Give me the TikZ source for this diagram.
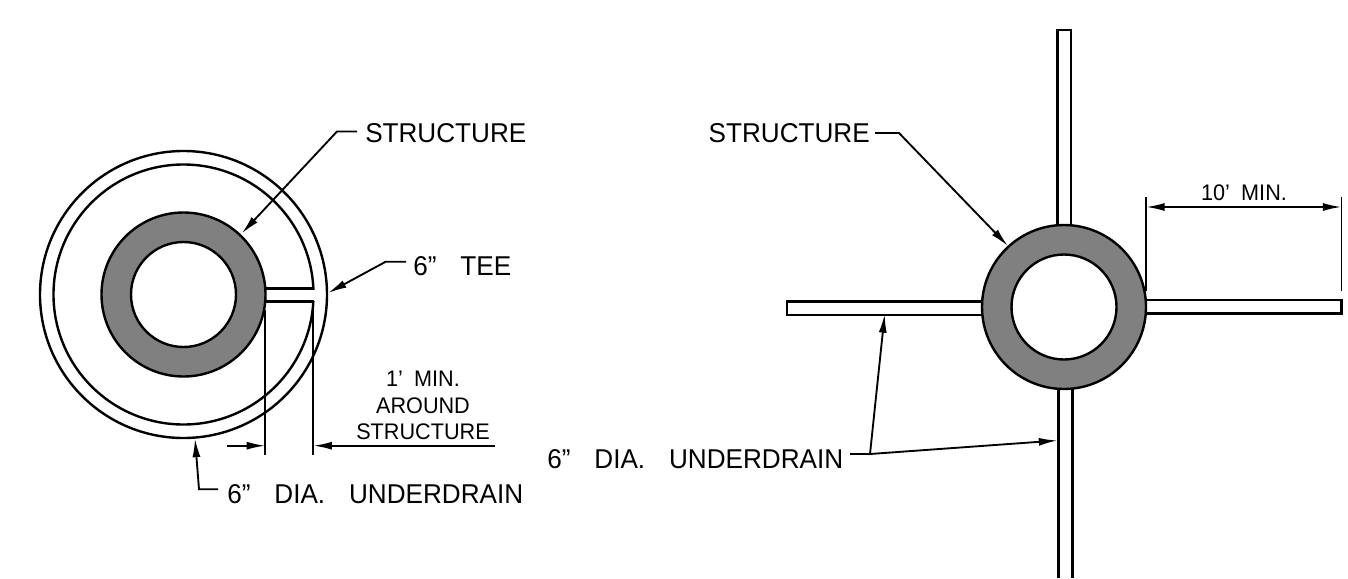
\documentclass[tikz,border=0pt]{standalone}
\usepackage{fontspec}
\setmainfont[FakeStretch=0.96]{Liberation Sans}
\usetikzlibrary{arrows.meta}
\tikzset{
  px/.style={x=0.75pt,y=-0.75pt},
  heavy/.style={draw=black,line width=1.8pt},
  thin leader/.style={draw=black,line width=1.4pt},
  tipped/.style={thin leader,-{Latex[length=14pt,width=6pt]}},
  ext/.style={draw=black,line width=1.4pt},
  concrete/.style={heavy,fill=struct},
  lab/.style={inner sep=0pt,anchor=base west,font=\fontsize{20.4}{22}\selectfont},
  smalllab/.style={inner sep=0pt,anchor=base,font=\fontsize{16.9}{19}\selectfont},
}
\definecolor{struct}{HTML}{808080}
\newcommand{\wgap}{\hspace{0.88em}}
\newcommand{\sgap}{\hspace{0.5em}}
\begin{document}
\begin{tikzpicture}[px]
\useasboundingbox (0,0) rectangle (1348,578);
% ---- left view
\coordinate (Lc) at (183.5,294.5);
\draw[heavy] (Lc) circle (143.5);
\draw[heavy] (Lc) circle (130);
\fill[white] (300,289.5) rectangle (322,300.5);
\draw[concrete] (Lc) circle (82);
\draw[heavy,fill=white] (Lc) circle (52.5);
\coordinate (teeA) at (265,288.5);
\coordinate (teeB) at (313.5,288.5);
\coordinate (teeC) at (265,301.5);
\coordinate (teeD) at (313.5,301.5);
\draw[heavy] (teeA) -- (teeB);
\draw[heavy] (teeC) -- (teeD);
% dimension
\coordinate (e1a) at (265.3,310);
\coordinate (e1b) at (265.3,455);
\coordinate (e2a) at (313.3,303);
\coordinate (e2b) at (313.3,455);
\draw[ext] (e1a) -- (e1b);
\draw[ext] (e2a) -- (e2b);
\coordinate (d1s) at (226.5,445.7);
\coordinate (d1t) at (265.3,445.7);
\coordinate (d2s) at (495,445.7);
\coordinate (d2t) at (313.3,445.7);
\draw[tipped] (d1s) -- (d1t);
\draw[tipped] (d2s) -- (d2t);
% labels left
\node[lab] (lstruct) at (365,142.5) {STRUCTURE};
\coordinate (ls1) at (357,131.5);
\coordinate (ls2) at (337,131.5);
\coordinate (ls3) at (241.7,233.5);
\draw[tipped] (ls1) -- (ls2) -- (ls3);
\node[lab] (tee) at (413,275) {6”\wgap TEE};
\coordinate (t1) at (406,261.7);
\coordinate (t2) at (385.7,261.7);
\coordinate (t3) at (328,293);
\draw[tipped] (t1) -- (t2) -- (t3);
\node[smalllab] (m1) at (423,386) {1’\sgap MIN.};
\node[smalllab] (m2) at (423,413) {AROUND};
\node[smalllab] (m3) at (423,439) {STRUCTURE};
\node[lab] (lund) at (227,503) {6”\wgap DIA.\wgap UNDERDRAIN};
\coordinate (u1) at (218,489.3);
\coordinate (u2) at (199,489.3);
\coordinate (u3) at (195,438.5);
\draw[tipped] (u1) -- (u2) -- (u3);
% ---- right view
\coordinate (Rc) at (1064,307);
\draw[heavy,fill=white] (1057.5,225) -- (1057.5,30) -- (1071,30) -- (1071,225);
\draw[heavy,fill=white] (1058.5,389) -- (1058.5,578) (1072.5,389) -- (1072.5,578);
\draw[heavy,fill=white] (985,301.5) -- (787,301.5) -- (787,315) -- (985,315);
\draw[heavy,fill=white] (1146,300) -- (1341.5,300) -- (1341.5,313.5) -- (1146,313.5);
\draw[concrete] (Rc) circle (82);
\draw[heavy,fill=white] (Rc) circle (52.5);
\coordinate (r1a) at (1146,197);
\coordinate (r1b) at (1146,291);
\coordinate (r2a) at (1341.5,197);
\coordinate (r2b) at (1341.5,291);
\draw[ext] (r1a) -- (r1b);
\draw[ext] (r2a) -- (r2b);
\coordinate (rdm) at (1244,207);
\draw[tipped] (rdm) -- (r1a |- rdm);
\draw[tipped] (rdm) -- (r2a |- rdm);
\node[smalllab] (ten) at (1244,200) {10’\sgap MIN.};
\node[lab,anchor=base east] (rstruct) at (870,142.5) {STRUCTURE};
\coordinate (rs1) at (875,133);
\coordinate (rs2) at (899,133);
\coordinate (rs3) at (1008,246);
\draw[tipped] (rs1) -- (rs2) -- (rs3);
\node[lab] (rund) at (547,468) {6”\wgap DIA.\wgap UNDERDRAIN};
\coordinate (j0) at (850,454);
\coordinate (j1) at (870,454);
\coordinate (j2) at (884.7,314);
\coordinate (j3) at (1057.5,440.5);
\draw[thin leader] (j0) -- (j1);
\draw[tipped] (j1) -- (j2);
\draw[tipped] (j1) -- (j3);
\end{tikzpicture}
\end{document}
